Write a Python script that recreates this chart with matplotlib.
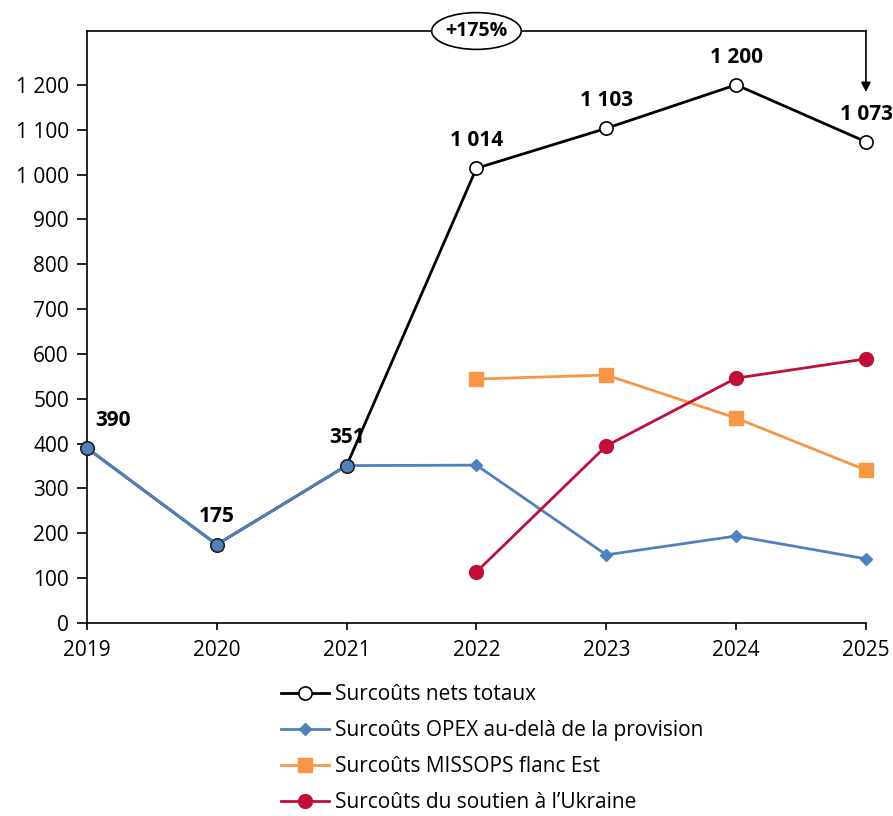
import matplotlib.pyplot as plt
from matplotlib.patches import Ellipse

plt.rcParams['font.family'] = ['Open Sans', 'DejaVu Sans']

years = [2019, 2020, 2021, 2022, 2023, 2024, 2025]
total = [390, 175, 351, 1014, 1103, 1200, 1073]
total_labels = ['390', '175', '351', '1 014', '1 103', '1 200', '1 073']
opex = [390, 175, 351, 352, 152, 194, 143]
missops_years = [2022, 2023, 2024, 2025]
missops = [544, 553, 457, 341]
ukraine_years = [2022, 2023, 2024, 2025]
ukraine = [114, 395, 546, 589]
y_ticks = [0, 100, 200, 300, 400, 500, 600, 700, 800, 900, 1000, 1100, 1200]
y_tick_labels = ['0', '100', '200', '300', '400', '500', '600', '700', '800',
                 '900', '1 000', '1 100', '1 200']

blue = '#4F81BD'
orange = '#F79646'
red = '#C0103A'

fig = plt.figure(figsize=(8.93, 8.16), dpi=100)
ax = fig.add_axes([0.0974, 0.2365, 0.8723, 0.7255])

# total net surcharges
ax.plot(years, total, color='black', lw=2, marker='o', ms=9.5,
        mfc='white', mec='black', mew=1.2, clip_on=False, zorder=3,
        label='Surcoûts nets totaux')
ax.plot(years, opex, color=blue, lw=2, marker='D', ms=6.5,
        mfc=blue, mec=blue, clip_on=False, zorder=4,
        label='Surcoûts OPEX au-delà de la provision')
# overlapping years: blue filled circle with dark edge
ax.plot(years[:3], opex[:3], ls='none', marker='o', ms=9.5, mfc=blue,
        mec='#222222', mew=1.0, clip_on=False, zorder=5)
ax.plot(missops_years, missops, color=orange, lw=2, marker='s', ms=10,
        mfc=orange, mec=orange, clip_on=False, zorder=4,
        label='Surcoûts MISSOPS flanc Est')
ax.plot(ukraine_years, ukraine, color=red, lw=2, marker='o', ms=10,
        mfc=red, mec=red, clip_on=False, zorder=4,
        label='Surcoûts du soutien à l\u2019Ukraine')

for i, (x, y, lab) in enumerate(zip(years, total, total_labels)):
    dx = 19 if i == 0 else 0
    ax.annotate(lab, (x, y), xytext=(dx, 20), textcoords='offset points',
                ha='center', va='center', fontsize=15, fontweight='bold')

ax.set_xlim(2019, 2025)
ax.set_ylim(0, 1320)
ax.set_xticks(years)
ax.set_xticklabels([str(y) for y in years], fontsize=15)
ax.set_yticks(y_ticks)
ax.set_yticklabels(y_tick_labels, fontsize=15)
ax.tick_params(axis='x', direction='out', length=5, width=1.2, pad=7)
ax.tick_params(axis='y', direction='out', length=7, width=1.2, pad=6)
ax.spines['top'].set_visible(False)
ax.spines['right'].set_visible(False)
ax.spines['left'].set_linewidth(1.2)
ax.spines['bottom'].set_linewidth(1.2)

# +175% bracket
ax.plot([2019, 2025], [1320, 1320], color='black', lw=1.2, clip_on=False)
ax.annotate('', xy=(2025, 1184), xytext=(2025, 1321),
            arrowprops=dict(arrowstyle='-|>', color='black', lw=1.2,
                            mutation_scale=14, shrinkA=0, shrinkB=0),
            annotation_clip=False)
ell = Ellipse((2022, 1320), 0.69, 82, facecolor='white', edgecolor='black',
              lw=1.2, clip_on=False, zorder=6)
ax.add_patch(ell)
ax.text(2022, 1320, '+175%', ha='center', va='center', fontsize=14,
        fontweight='bold', zorder=7)

leg = fig.legend(loc='upper left', bbox_to_anchor=(0.305, 0.172), frameon=False,
                 fontsize=15, handlelength=2.3, labelspacing=0.72,
                 handletextpad=0.3, borderaxespad=0)

fig.savefig('out.png', dpi=100)
